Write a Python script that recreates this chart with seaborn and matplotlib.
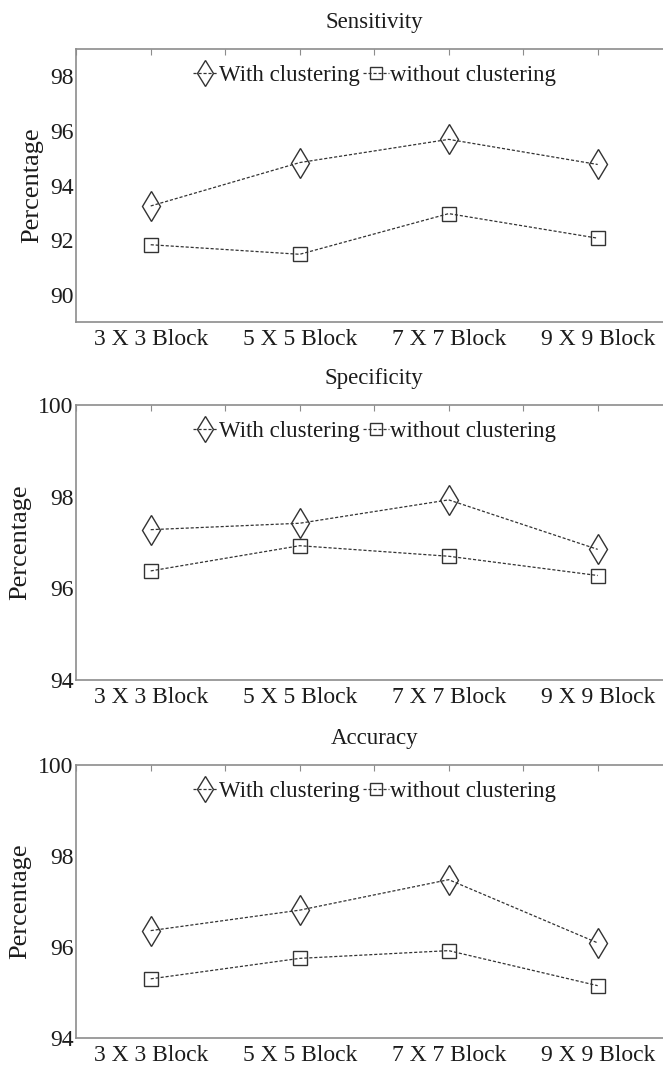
import matplotlib
matplotlib.use("Agg")
import matplotlib.pyplot as plt
from matplotlib.ticker import MultipleLocator, FixedLocator
import seaborn as sns

# Block sizes compared along the x axis
blocks = ["3 X 3 Block", "5 X 5 Block", "7 X 7 Block", "9 X 9 Block"]
series_names = ["With clustering", "without clustering"]

# Percentages per metric (with / without clustering)
sensitivity_with = [93.25, 94.84, 95.69, 94.77]
sensitivity_without = [91.83, 91.48, 92.97, 92.07]
specificity_with = [97.28, 97.42, 97.93, 96.85]
specificity_without = [96.38, 96.93, 96.70, 96.28]
accuracy_with = [96.36, 96.81, 97.48, 96.09]
accuracy_without = [95.30, 95.75, 95.92, 95.15]

titles = ["Sensitivity", "Specificity", "Accuracy"]
ylims = [(89, 99), (94, 100), (94, 100)]
yticks = [[90, 92, 94, 96, 98], [94, 96, 98, 100], [94, 96, 98, 100]]

sns.set_style("white")
plt.rcParams["font.family"] = ["Liberation Serif", "DejaVu Serif"]

fig = plt.figure(figsize=(6.63, 10.68), dpi=100)
W, H = 663, 1068
left_px, unit_px = 76.2, 149.0
panels_px = [(49, 322), (405, 680), (765, 1038)]

line_col = "#333333"
spine_col = "#8c8c8c"
text_col = "#1c1c1c"

data = [
    (sensitivity_with, sensitivity_without),
    (specificity_with, specificity_without),
    (accuracy_with, accuracy_without),
]
positions = list(range(1, len(blocks) + 1))

for i, (top, bot) in enumerate(panels_px):
    ax = fig.add_axes([left_px / W, 1 - bot / H, 4 * unit_px / W, (bot - top) / H])
    with_vals, without_vals = data[i]
    for vals, mk, ms, name in [
        (with_vals, "d", 15, series_names[0]),
        (without_vals, "s", 9.5, series_names[1]),
    ]:
        sns.lineplot(x=positions, y=vals, ax=ax, color=line_col, legend=False,
                     linewidth=0.9, linestyle=(0, (2.5, 1.5)))
        line = ax.lines[-1]
        line.set_marker(mk)
        line.set_markersize(ms)
        line.set_markerfacecolor("none")
        line.set_markeredgecolor(line_col)
        line.set_markeredgewidth(1.0)
        line.set_label(name)

    ax.set_xlim(0.5, 4.5)
    ax.set_ylim(*ylims[i])
    ax.xaxis.set_major_locator(FixedLocator(positions))
    ax.set_xticklabels(blocks)
    ax.xaxis.set_minor_locator(MultipleLocator(0.5))
    ax.set_yticks(yticks[i])
    ax.tick_params(axis="both", which="both", direction="in", length=4,
                   width=0.8, color=spine_col, labelcolor=text_col,
                   labelsize=17, top=True, right=False)
    ax.tick_params(axis="x", which="major", pad=5)
    ax.tick_params(axis="y", which="major", pad=2)
    for s in ax.spines.values():
        s.set_color(spine_col)
        s.set_linewidth(1.2)
        s.set_visible(True)
    ax.set_xlabel("")
    ax.set_ylabel("Percentage", fontsize=19, color=text_col, labelpad=5)
    ax.set_title(titles[i], fontsize=16.5, color=text_col, pad=15)

    leg = ax.legend(handles=ax.lines[:2], labels=series_names, loc="upper center",
                    bbox_to_anchor=(0.5, 1.0), ncol=2, frameon=False,
                    fontsize=16.5, handlelength=1.1, handletextpad=0.05,
                    columnspacing=0.15, borderaxespad=0.3, markerscale=0.9)
    for t in leg.get_texts():
        t.set_color(text_col)

fig.savefig("out.png", dpi=100, facecolor="white")
